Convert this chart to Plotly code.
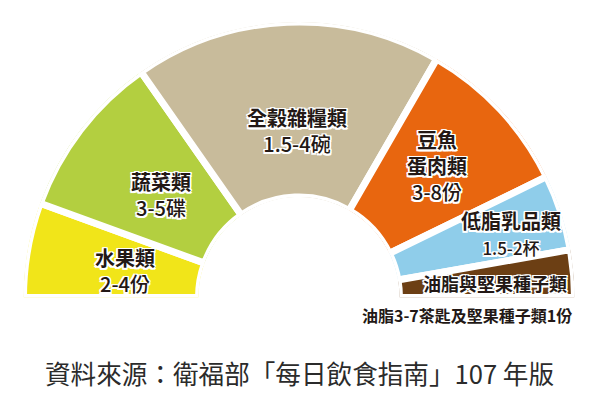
import plotly.graph_objects as go

# Food groups (ordered from left to right along the half ring)
names = ["水果類", "蔬菜類", "全穀雜糧類", "豆魚<br>蛋肉類", "低脂乳品類", "油脂與堅果種子類"]
amounts = ["2-4份", "3-5碟", "1.5-4碗", "3-8份", "1.5-2杯", ""]
# angular span of each slice (degrees, half ring = 180)
spans = [20, 35, 65, 34, 16, 10]
radius = [1, 1, 1, 1, 1, 1]
colors = ["#F1E519", "#B3CF40", "#C8BB9B", "#E8660F", "#8FCDEA", "#6C3F14"]
footnote = "油脂3-7茶匙及堅果種子類1份"
source = "資料來源：衛福部「每日飲食指南」107 年版"

# slice centers, laid out from 180° (left) down to 0° (right)
centers = []
start = 180
for s in spans:
    centers.append(start - s / 2)
    start -= s

W, H = 600, 398
GAP = 7
R_OUT = 272 + GAP / 2
R_IN = 104 - GAP / 2
CX, CY = 299, 297.5

fig = go.Figure(
    go.Barpolar(
        r=radius,
        theta=centers,
        width=spans,
        base=0,
        marker=dict(color=colors, line=dict(color="white", width=GAP)),
        hoverinfo="skip",
        showlegend=False,
    )
)

FONT = "Noto Sans CJK TC, Noto Sans CJK SC, sans-serif"
TXT = "#231815"
SH = ("1.5px 0 0 #fff, -1.5px 0 0 #fff, 0 1.5px 0 #fff, 0 -1.5px 0 #fff, "
      "1.5px 1.5px 0 #fff, -1.5px -1.5px 0 #fff, 1.5px -1.5px 0 #fff, -1.5px 1.5px 0 #fff")


def px(x, y):
    return x / W, 1 - y / H


annos = []


def add(text, x, y, size, weight=500, shadow=True, color=TXT):
    ax, ay = px(x, y)
    f = dict(family=FONT, size=size, color=color, weight=weight)
    if shadow:
        f["shadow"] = SH
    annos.append(dict(text=text, x=ax, y=ay, xref="paper", yref="paper",
                      showarrow=False, font=f, xanchor="center", yanchor="middle"))


# slice labels: bold name line(s) + amount line
add(f"<b>{names[0]}</b><br>{amounts[0]}", 125, 270, 20)
add(f"<b>{names[1]}</b><br>{amounts[1]}", 161, 195, 20)
add(f"<b>{names[2]}</b><br>{amounts[2]}", 297, 130, 20)
add(f"<b>{names[3]}</b><br>{amounts[3]}", 437, 166, 20)
add(f"<b>{names[4]}</b><br><span style='font-size:17px'>{amounts[4]}</span>", 511, 233, 20)
add(f"<b>{names[5]}</b>", 495, 283, 18)
add(footnote, 467, 315, 16, weight="bold", shadow=False)
add(source, 299, 372, 25.6, weight="normal", shadow=False, color="#2b2b2b")

fig.update_layout(
    width=W,
    height=H,
    margin=dict(l=0, r=0, t=0, b=0),
    paper_bgcolor="white",
    plot_bgcolor="white",
    polar=dict(
        domain=dict(x=[(CX - R_OUT) / W, (CX + R_OUT) / W],
                    y=[(H - CY) / H, (H - CY + R_OUT) / H]),
        sector=[0, 180],
        hole=R_IN / R_OUT,
        bgcolor="rgba(0,0,0,0)",
        radialaxis=dict(visible=False, range=[0, 1]),
        angularaxis=dict(visible=False, direction="counterclockwise", rotation=0),
    ),
    annotations=annos,
)

fig.write_html("out.html", config={"displayModeBar": False},
               post_script="document.body.style.margin='0';")
